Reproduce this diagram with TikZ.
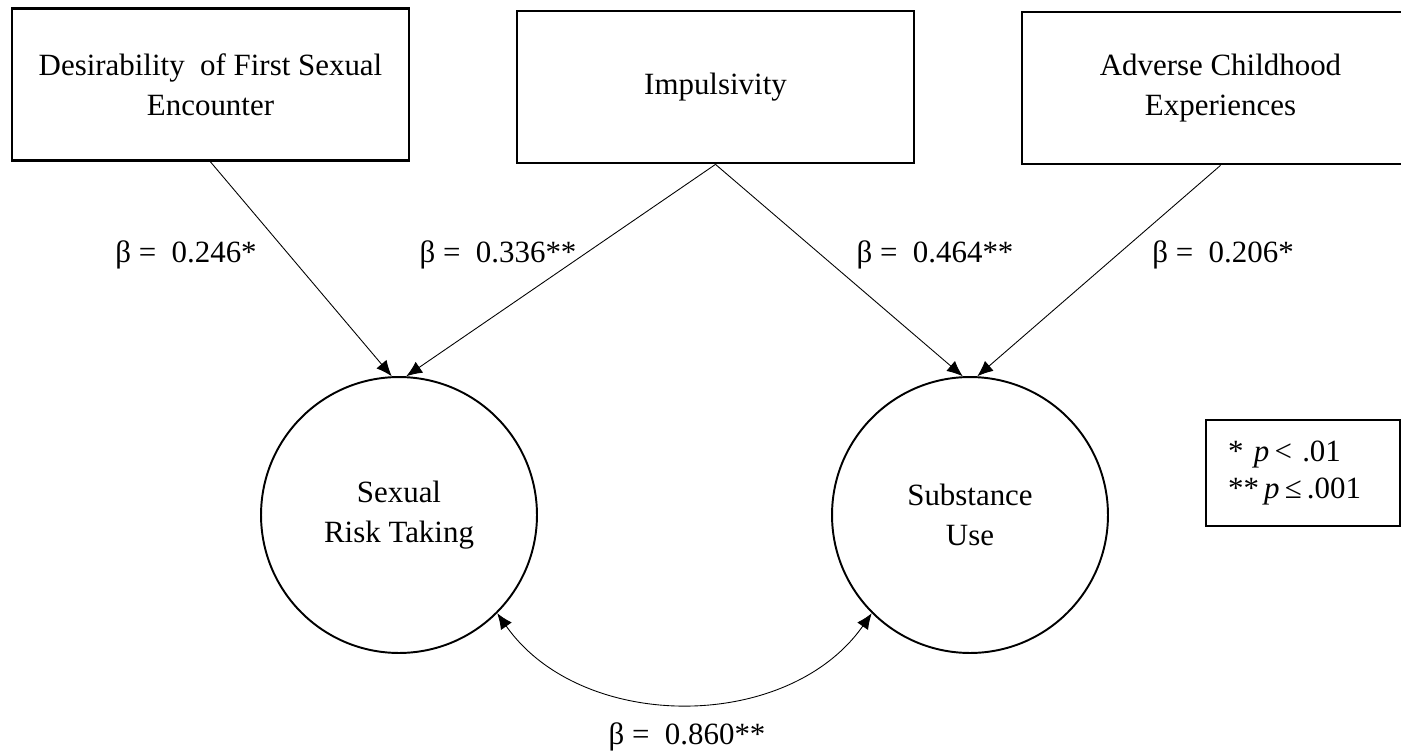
\documentclass[tikz,border=0pt]{standalone}
\usepackage{fontspec}
\setmainfont{Liberation Serif}
\usetikzlibrary{arrows.meta}
\begin{document}
\begin{tikzpicture}[x=0.02cm, y=0.02cm,
    every node/.style = {font=\fontsize{17.6}{22.7}\selectfont, align=center},
    measure/.style = {draw, line width=1.6pt, minimum width=7.94cm, minimum height=3.04cm},
    latent/.style = {draw, circle, line width=1.1pt, minimum size=5.52cm},
    path/.style = {draw, line width=0.5pt, -{Latex[length=9pt, width=7.5pt]}},
    coef/.style = {inner sep=0pt}]
  \useasboundingbox (0,0) rectangle (1401,-754);

  % observed predictors
  \node[measure] (desire)  at (210.5,-84.5) {Desirability\ \ of First Sexual\\Encounter};
  \node[measure] (impulse) at (715.5,-87)   {Impulsivity};
  \node[measure] (adverse) at (1220.5,-88)  {Adverse Childhood\\Experiences};

  % outcomes
  \node[latent] (sexual)    at (399,-515) {Sexual\\Risk Taking};
  \node[latent] (substance) at (970,-515) {Substance\\Use};

  \foreach \src/\dst/\ang in {desire/sexual/93, impulse/sexual/87,
                              impulse/substance/93, adverse/substance/87}
    \draw[path] (\src.south) -- (\dst.\ang);

  \draw[path, {Latex[length=9pt, width=7.5pt]}-{Latex[length=9pt, width=7.5pt]}]
    (sexual.-45) to[out=-55, in=-125] (substance.-135);

  % coefficients
  \node[coef] (b1) at (186,-255)  {β =\ \ 0.246*};
  \node[coef] (b2) at (498,-255)  {β =\ \ 0.336**};
  \node[coef] (b3) at (935,-255)  {β =\ \ 0.464**};
  \node[coef] (b4) at (1223,-255) {β =\ \ 0.206*};
  \node[coef] (b5) at (687,-737)  {β =\ \ 0.860**};

  % significance key
  \node[draw, line width=1.3pt, anchor=north west, align=left, text width=3.0cm,
        inner xsep=0.44cm, minimum height=2.12cm,
        font=\fontsize{17.6}{21}\selectfont] (key) at (1205,-419)
    {* \textit{p}\,< .01\\{}**\,\textit{p}\,≤\,.001};
\end{tikzpicture}
\end{document}
